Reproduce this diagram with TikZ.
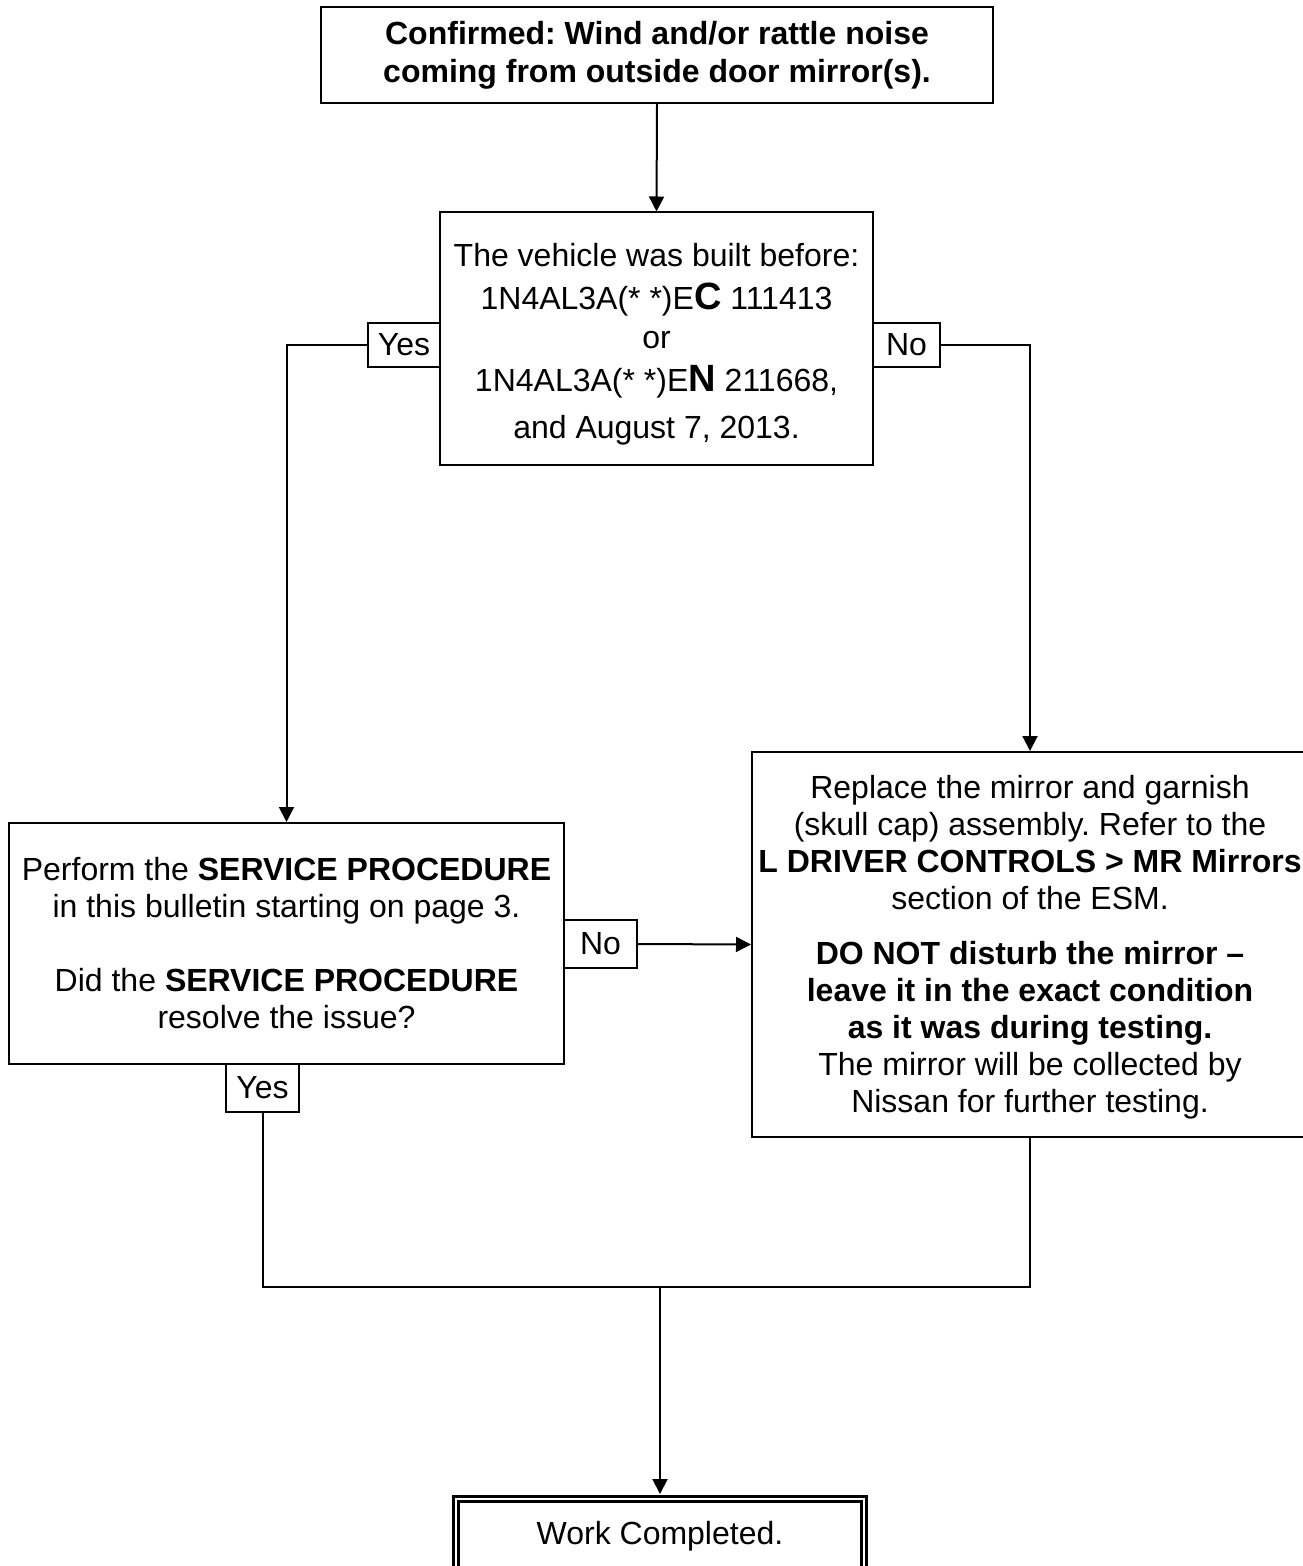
\documentclass[tikz,border=0pt]{standalone}
\usepackage{fontspec}
\setmainfont{Liberation Sans}
\usetikzlibrary{arrows.meta}
\frenchspacing
\begin{document}
\begin{tikzpicture}[x=0.5pt,y=-0.5pt,
  box/.style={draw, line width=1pt, align=center, inner sep=0pt,
    font=\fontsize{16pt}{18.5pt}\selectfont\frenchspacing},
  lbl/.style={draw, line width=0.8pt, inner sep=0pt,
    font=\fontsize{16pt}{18.5pt}\selectfont},
  conn/.style={line width=1pt},
  arr/.style={line width=1pt, -{Triangle[width=7.5pt,length=7.5pt]}},
  workbox/.style={draw, line width=1.5pt, double=white, double distance=1pt,
    inner xsep=0pt, inner ysep=0pt, text height=23pt, text depth=50pt,
    font=\fontsize{16pt}{18.5pt}\selectfont}
]
\useasboundingbox (0,0) rectangle (1302,1566);

\node[box, minimum width=336pt, minimum height=48pt,
  font=\fontsize{16pt}{19pt}\selectfont\bfseries\frenchspacing] (top) at (657,55)
  {Confirmed: Wind and/or rattle noise\\coming from outside door mirror(s).};

\node[box, minimum width=216.5pt, minimum height=126.5pt] (dec) at (656.5,339)
  {\rule{0pt}{16.7pt}The vehicle was built before:\\[3pt]
   1N4AL3A(* *)E{\fontsize{19pt}{19pt}\selectfont\bfseries C} 111413\\[1pt]
   or\\[3pt]
   1N4AL3A(* *)E{\fontsize{19pt}{19pt}\selectfont\bfseries N} 211668,\\[5pt]
   and August 7, 2013.};

\node[lbl, minimum width=36pt, minimum height=22pt] (yes1) at (404,345) {Yes};
\node[lbl, minimum width=33.5pt, minimum height=22pt] (no1) at (906.5,345) {No};

\node[box, minimum width=277.5pt, minimum height=120.5pt] (perf) at (286.5,943.5)
  {Perform the \textbf{SERVICE PROCEDURE}\\
   in this bulletin starting on page 3.\\[18.5pt]
   Did the \textbf{SERVICE PROCEDURE}\\
   resolve the issue?};

\node[lbl, minimum width=36.5pt, minimum height=24pt] (no2) at (600.5,944) {No};
\node[lbl, minimum width=36.5pt, minimum height=24pt] (yes2) at (262.5,1088) {Yes};

\node[box, minimum width=278pt, minimum height=192.5pt] (repl) at (1030,944.5)
  {\rule{0pt}{14.5pt}Replace the mirror and garnish\\
   (skull cap) assembly. Refer to the\\
   \textbf{L DRIVER CONTROLS > MR Mirrors}\\
   section of the ESM.\\[9pt]
   \textbf{DO NOT disturb the mirror –}\\
   \textbf{leave it in the exact condition}\\
   \textbf{as it was during testing.}\\
   The mirror will be collected by\\
   Nissan for further testing.};

\node[workbox, minimum width=204pt, anchor=north] (work) at (660,1497) {Work Completed.};

\coordinate (join) at (660,1287);

\draw[arr] (top.south) -- (dec.north);
\draw[arr] (yes1.west) -| (perf.north);
\draw[arr] (no1.east) -| (repl.north);
\draw[arr] (no2.east) -- (repl.west);
\draw[conn] (yes2.south) |- (join) -| (repl.south);
\draw[arr, shorten >=1.5pt] (join) -- (work.north);
\end{tikzpicture}
\end{document}
